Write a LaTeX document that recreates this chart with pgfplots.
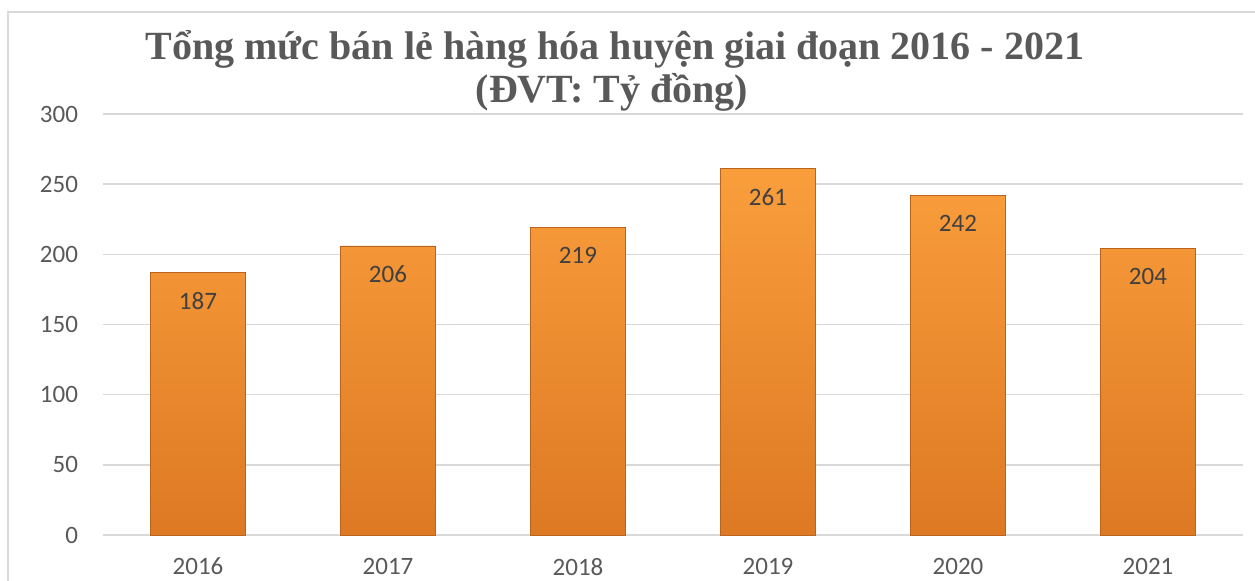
\documentclass[border=0pt]{standalone}
\usepackage{fontspec}
\setmainfont{Carlito}
\newfontfamily\titlefont{Liberation Serif}
\usepackage{pgfplots}
\pgfplotsset{compat=1.18}

\definecolor{gridgray}{HTML}{D9D9D9}
\definecolor{ticktext}{HTML}{595959}
\definecolor{labeltext}{HTML}{404040}
\definecolor{bartop}{HTML}{FA9E3C}
\definecolor{barbottom}{HTML}{DD7923}
\definecolor{baredge}{HTML}{B9641C}

\begin{document}
\begin{tikzpicture}
% 1 px of the reference = 0.5pt
\useasboundingbox (0,0) rectangle (627.5pt,290pt);
\clip (0,0) rectangle (627.5pt,290pt);

% chart frame
\draw[gridgray, line width=0.75pt] (4pt,-5pt) -- (4pt,284pt) -- (640pt,284pt);

% title
\node[anchor=base, text=ticktext, font=\titlefont\bfseries\fontsize{20}{24}\selectfont]
  at (307.5pt,260pt) {Tổng mức bán lẻ hàng hóa huyện giai đoạn 2016 - 2021};
\node[anchor=base, text=ticktext, font=\titlefont\bfseries\fontsize{20}{24}\selectfont]
  at (306pt,239pt) {(ĐVT: Tỷ đồng)};

\begin{axis}[
    at={(51.5pt,22.5pt)}, anchor=south west,
    width=570pt, height=210.5pt, scale only axis,
    ymin=0, ymax=300, ytick={0,50,...,300},
    xmin=-0.5, xmax=5.5,
    xtick=data,
    xticklabels={2016,2017,2018,2019,2020,2021},
    axis x line*=bottom, axis y line*=left,
    x axis line style={gridgray, line width=0.75pt, -},
    y axis line style={draw=none},
    ymajorgrids, grid style={gridgray, line width=0.75pt},
    major tick length=0pt,
    tick label style={text=ticktext, font=\fontsize{12.5}{14}\selectfont},
    yticklabel style={xshift=-9pt},
    xticklabel style={yshift=-8pt},
    /pgf/number format/assume math mode=true,
    ytick style={draw=none}, xtick style={draw=none},
    ybar, bar width=47.5pt,
    nodes near coords,
    every node near coord/.append style={anchor=center, yshift=-14pt,
        text=labeltext, font=\fontsize{12.5}{14}\selectfont},
    clip=false,
]
\addplot[draw=baredge, line width=0.4pt, top color=bartop, bottom color=barbottom]
  coordinates {(0,187) (1,206) (2,219) (3,261) (4,242) (5,204)};
\end{axis}
\end{tikzpicture}
\end{document}
